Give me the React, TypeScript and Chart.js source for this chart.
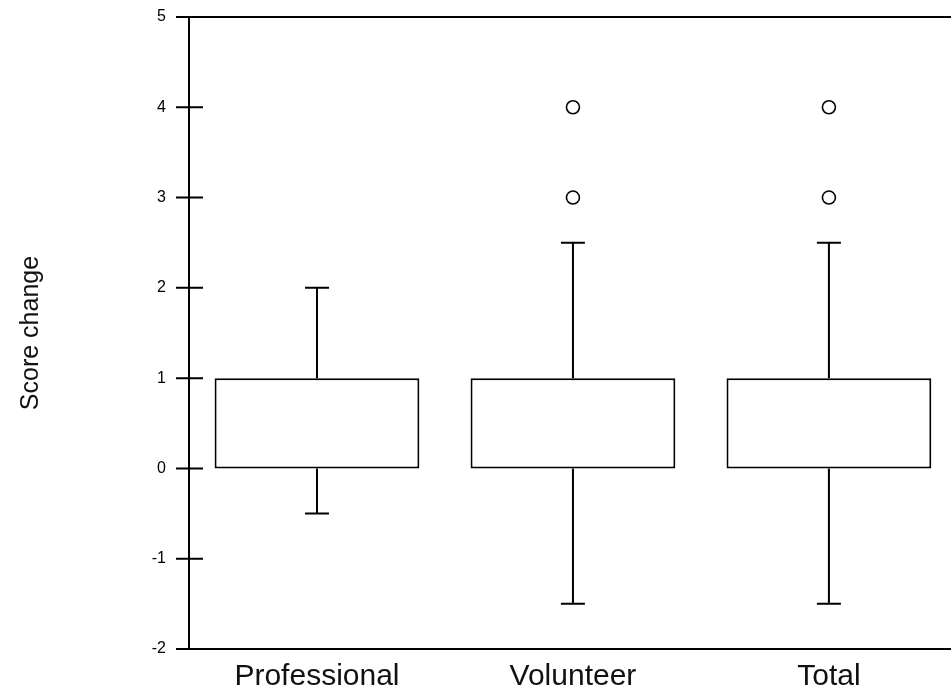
import React, { useEffect, useRef } from 'react';
import { Chart, registerables } from 'chart.js';

Chart.register(...registerables);

// ---- data ----
const categories = ['Professional', 'Volunteer', 'Total'];
const lowerQuartile = [0, 0, 0];
const upperQuartile = [1, 1, 1];
const lowerWhisker = [-0.5, -1.5, -1.5];
const upperWhisker = [2, 2.5, 2.5];
const outlierCategory = ['Volunteer', 'Volunteer', 'Total', 'Total'];
const outlierValue = [3, 4, 3, 4];
const yMin = -2;
const yMax = 5;
const yStep = 1;
const yTitle = 'Score change';

const FONT = "'Liberation Sans', Arial, Helvetica, sans-serif";

const framePlugin = {
  id: 'boxFrame',
  afterDatasetsDraw(chart: any) {
    const { ctx, chartArea: a } = chart;
    const xs = chart.scales.x;
    const ys = chart.scales.y;
    ctx.save();
    ctx.strokeStyle = '#000';
    ctx.lineWidth = 2;
    ctx.lineCap = 'butt';
    ctx.beginPath();
    // left axis
    ctx.moveTo(a.left, a.top);
    ctx.lineTo(a.left, a.bottom);
    // top and bottom lines
    ctx.moveTo(a.left - 13, a.top);
    ctx.lineTo(a.right, a.top);
    ctx.moveTo(a.left - 13, a.bottom);
    ctx.lineTo(a.right, a.bottom);
    // tick marks crossing the axis
    ys.ticks.forEach((t: any) => {
      const py = ys.getPixelForValue(t.value);
      ctx.moveTo(a.left - 13, py);
      ctx.lineTo(a.left + 14, py);
    });
    // whiskers
    categories.forEach((_, i) => {
      const cx = xs.getPixelForValue(i);
      const q3 = ys.getPixelForValue(upperQuartile[i]);
      const hi = ys.getPixelForValue(upperWhisker[i]);
      const q1 = ys.getPixelForValue(lowerQuartile[i]);
      const lo = ys.getPixelForValue(lowerWhisker[i]);
      ctx.moveTo(cx, q3);
      ctx.lineTo(cx, hi);
      ctx.moveTo(cx - 12, hi);
      ctx.lineTo(cx + 12, hi);
      ctx.moveTo(cx, q1);
      ctx.lineTo(cx, lo);
      ctx.moveTo(cx - 12, lo);
      ctx.lineTo(cx + 12, lo);
    });
    ctx.stroke();
    ctx.restore();
  },
};

export default function App() {
  const canvasRef = useRef<HTMLCanvasElement | null>(null);

  useEffect(() => {
    if (!canvasRef.current) return;
    Chart.defaults.font.family = FONT;
    const chart = new Chart(canvasRef.current, {
      type: 'bar',
      data: {
        labels: categories,
        datasets: [
          {
            type: 'bar',
            data: categories.map((_, i) => [lowerQuartile[i], upperQuartile[i]]) as any,
            backgroundColor: '#fff',
            borderColor: '#000',
            borderWidth: 2,
            borderSkipped: false,
            categoryPercentage: 0.8,
            barPercentage: 1,
          },
          {
            type: 'scatter',
            data: outlierCategory.map((c, i) => ({ x: c, y: outlierValue[i] })) as any,
            pointStyle: 'circle',
            pointRadius: 6.5,
            pointBorderWidth: 1.6,
            borderColor: '#000',
            backgroundColor: '#fff',
            showLine: false,
          },
        ],
      },
      options: {
        responsive: false,
        animation: false,
        devicePixelRatio: 1,
        layout: { padding: { top: 17, right: 7, left: 0, bottom: 0 } },
        plugins: {
          legend: { display: false },
          tooltip: { enabled: false },
        },
        scales: {
          x: {
            type: 'category',
            offset: true,
            grid: { display: false, drawTicks: false },
            border: { display: false },
            ticks: {
              font: { size: 30, family: FONT },
              color: '#111',
              padding: 10,
            },
            afterFit: (s: any) => {
              s.height = 49;
              s.paddingLeft = 0;
              s.paddingRight = 0;
            },
          },
          y: {
            type: 'linear',
            min: yMin,
            max: yMax,
            grid: { display: false, drawTicks: false },
            border: { display: false },
            ticks: {
              stepSize: yStep,
              font: { size: 16, family: FONT },
              color: '#000',
              padding: 23,
            },
            title: {
              display: true,
              text: yTitle,
              font: { size: 25, family: FONT },
              color: '#111',
              padding: { top: 16, bottom: 0 },
            },
            afterFit: (s: any) => {
              s.width = 189;
              s.paddingTop = 0;
              s.paddingBottom = 0;
            },
          },
        },
      } as any,
      plugins: [framePlugin],
    });
    return () => chart.destroy();
  }, []);

  return (
    <div
      style={{
        position: 'fixed',
        left: 0,
        top: 0,
        width: 951,
        height: 698,
        overflow: 'hidden',
        background: '#fff',
      }}
    >
      <canvas ref={canvasRef} width={965} height={698} style={{ display: 'block' }} />
    </div>
  );
}
